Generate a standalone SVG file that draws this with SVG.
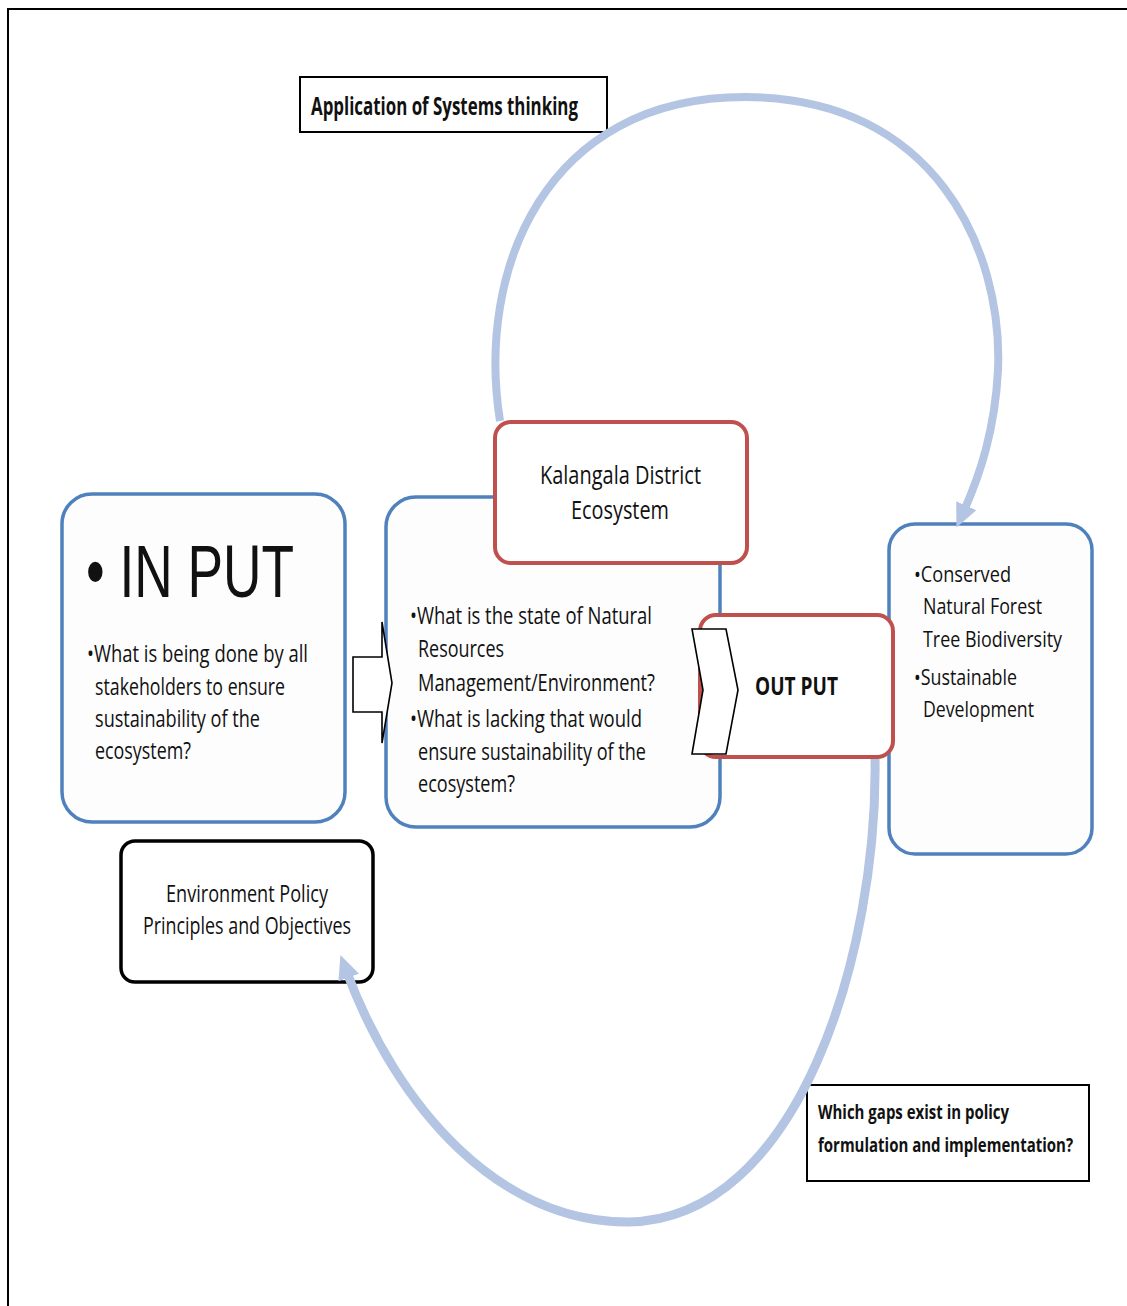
<svg xmlns="http://www.w3.org/2000/svg" width="1127" height="1306" viewBox="0 0 1127 1306">
<defs>
<marker id="ah" markerUnits="userSpaceOnUse" markerWidth="26" markerHeight="26" viewBox="0 0 26 26" refX="8" refY="13" orient="auto"><path d="M0,2 L24,13 L0,24 z" fill="#b3c5e3"/></marker>
</defs>
<style>
.t{font-family:"Open Sans","Liberation Sans",sans-serif;fill:#111}
.s23{font-size:23px}
.s22{font-size:22px}
.s26{font-size:26px}
.b{font-weight:bold}
.blue{fill:#fdfdfd;stroke:#4f81bd;stroke-width:3.5}
.red{fill:#ffffff;stroke:#c0504d;stroke-width:4}
.blk{fill:#ffffff;stroke:#000;stroke-width:3.5}
.lab{fill:#ffffff;stroke:#000;stroke-width:2}
.arc{fill:none;stroke:#b3c5e3;stroke-width:8}
.shape{fill:#ffffff;stroke:#000;stroke-width:1.6;stroke-linejoin:miter}
</style>
<rect width="1127" height="1306" fill="#fff"/>
<g id="frame" fill="none" stroke="#000" stroke-width="2">
<path d="M8,1306 L8,9 L1127,9"/>
</g>

<g id="title">
<rect class="lab" x="300" y="77" width="307" height="55"/>
<text class="t b" x="311" y="115" style="font-size:25px" textLength="267" lengthAdjust="spacingAndGlyphs">Application of Systems thinking</text>
</g>

<g id="input">
<rect class="blue" x="62" y="494" width="283" height="328" rx="30"/>
<text x="86" y="597" style="font-family:'Liberation Sans',sans-serif;font-size:75px;fill:#111" textLength="208" lengthAdjust="spacingAndGlyphs">• IN PUT</text>
<text class="t s23" x="87" y="662" textLength="221" lengthAdjust="spacingAndGlyphs">•What is being done by all</text>
<text class="t s23" x="95" y="695" textLength="190" lengthAdjust="spacingAndGlyphs">stakeholders to ensure</text>
<text class="t s23" x="95" y="727" textLength="165" lengthAdjust="spacingAndGlyphs">sustainability of the</text>
<text class="t s23" x="95" y="759" textLength="96" lengthAdjust="spacingAndGlyphs">ecosystem?</text>
</g>

<g id="process">
<rect class="blue" x="386" y="497" width="334" height="330" rx="30"/>
<text class="t s23" x="410" y="624" textLength="242" lengthAdjust="spacingAndGlyphs">•What is the state of Natural</text>
<text class="t s23" x="418" y="657" textLength="86" lengthAdjust="spacingAndGlyphs">Resources</text>
<text class="t s23" x="418" y="691" textLength="237" lengthAdjust="spacingAndGlyphs">Management/Environment?</text>
<text class="t s23" x="410" y="727" textLength="232" lengthAdjust="spacingAndGlyphs">•What is lacking that would</text>
<text class="t s23" x="418" y="760" textLength="228" lengthAdjust="spacingAndGlyphs">ensure sustainability  of the</text>
<text class="t s23" x="418" y="792" textLength="97" lengthAdjust="spacingAndGlyphs">ecosystem?</text>
</g>

<g id="kalangala">
<rect class="red" x="495" y="422" width="252" height="141" rx="16"/>
<text class="t s26" x="540" y="484" textLength="161" lengthAdjust="spacingAndGlyphs">Kalangala District</text>
<text class="t s26" x="571" y="519" textLength="98" lengthAdjust="spacingAndGlyphs">Ecosystem</text>
</g>

<g id="outcome">
<rect class="blue" x="889" y="524" width="203" height="330" rx="26"/>
<text class="t s22" x="914" y="582" textLength="97" lengthAdjust="spacingAndGlyphs">•Conserved</text>
<text class="t s22" x="923" y="614" textLength="119" lengthAdjust="spacingAndGlyphs">Natural Forest</text>
<text class="t s22" x="923" y="647" textLength="139" lengthAdjust="spacingAndGlyphs">Tree Biodiversity</text>
<text class="t s22" x="914" y="685" textLength="103" lengthAdjust="spacingAndGlyphs">•Sustainable</text>
<text class="t s22" x="923" y="717" textLength="111" lengthAdjust="spacingAndGlyphs">Development</text>
</g>

<g id="output">
<rect class="red" x="700" y="615" width="193" height="142" rx="16"/>
<text class="t b" x="755" y="695" style="font-size:25px" textLength="83" lengthAdjust="spacingAndGlyphs">OUT PUT</text>
</g>

<g id="policy">
<rect class="blk" x="121" y="841" width="252" height="141" rx="14"/>
<text class="t s23" x="166" y="902" textLength="162" lengthAdjust="spacingAndGlyphs">Environment Policy</text>
<text class="t s23" x="143" y="934" textLength="208" lengthAdjust="spacingAndGlyphs">Principles and Objectives</text>
</g>

<g id="gaps">
<rect class="lab" x="807" y="1085" width="282" height="96"/>
<text class="t b" transform="matrix(0.78 0 0 1 818 1119)" x="0" y="0" style="font-size:19px" textLength="245" lengthAdjust="spacingAndGlyphs">Which gaps exist in policy</text>
<text class="t b" transform="matrix(0.78 0 0 1 818 1152)" x="0" y="0" style="font-size:19px" textLength="327" lengthAdjust="spacingAndGlyphs">formulation and implementation?</text>
</g>

<g id="connectors">
<path class="shape" d="M353,657 L382,657 L382,622 L392,683 L382,743 L382,712 L353,712 Z"/>
<path class="shape" d="M692,629 L726,629 L738,690 L726,754 L692,754 L703,690 Z"/>
<path class="arc" marker-end="url(#ah)" d="M500,421 C476,270 545,97 745,97 C935,97 1003,250 998,370 C995,430 980,475 963,513"/>
<path class="arc" style="stroke-width:9px" marker-end="url(#ah)" d="M875,759 C878,950 800,1220 628,1222 C500,1222 398,1110 346,970"/>
</g>
</svg>
